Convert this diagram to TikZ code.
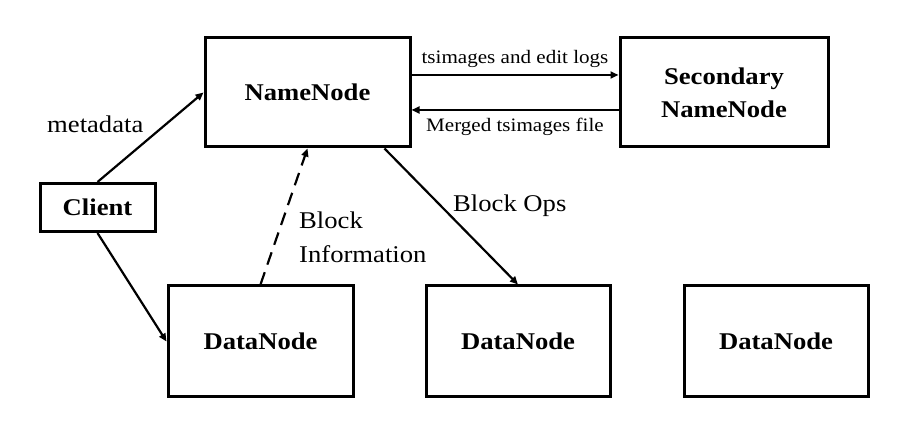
\documentclass[tikz,border=0pt]{standalone}
\usepackage{fontspec}
\setmainfont{Liberation Serif}[FakeStretch=1.11]
\usetikzlibrary{arrows.meta,calc}
\begin{document}
\begin{tikzpicture}[x=1pt,y=-1pt,
  box/.style={draw,line width=3pt,rectangle,inner sep=0pt,font=\fontsize{24}{33}\selectfont\bfseries,align=center},
  conn/.style={line width=2.2pt,-{Triangle[length=8pt,width=7pt]}},
  biglbl/.style={inner sep=0pt,font=\fontsize{24}{34}\selectfont},
  smalllbl/.style={inner sep=0pt,font=\fontsize{19}{22}\selectfont}]
\useasboundingbox (0,0) rectangle (922,435);
\node[box,minimum width=205pt,minimum height=109pt] (nn) at (307.5,92.5) {NameNode};
\node[box,minimum width=208pt,minimum height=109pt] (snn) at (724,92.5) {Secondary\\NameNode};
\node[box,minimum width=115pt,minimum height=48pt] (cl) at (97.5,207.5) {Client};
\node[box,minimum width=185pt,minimum height=111pt] (dn1) at (260.5,341.5) {DataNode};
\node[box,minimum width=184pt,minimum height=111pt] (dn2) at (518,341.5) {DataNode};
\node[box,minimum width=184pt,minimum height=111pt] (dn3) at (776,341.5) {DataNode};
\draw[conn] ([yshift=17.5pt]nn.east) -- node[smalllbl,above=6pt] (l1) {tsimages and edit logs} ([yshift=17.5pt]snn.west);
\draw[conn] ([yshift=-17.5pt]snn.west) -- node[smalllbl,below=7pt] (l2) {Merged tsimages file} ([yshift=-17.5pt]nn.east);
\draw[conn] (cl.north) -- (nn.west);
\draw[conn] (cl.south) -- (dn1.west);
\draw[conn,dash pattern=on 13pt off 8pt] (dn1.north) -- (nn.south);
\draw[conn] ([xshift=77pt]nn.south) -- (dn2.north);
\node[biglbl,anchor=base west] (l3) at (47,133) {metadata};
\node[biglbl,anchor=base west] (l4) at (453,212) {Block Ops};
\node[biglbl,anchor=north west,align=left] (l5) at (299,212) {Block\\Information};
\end{tikzpicture}
\end{document}
